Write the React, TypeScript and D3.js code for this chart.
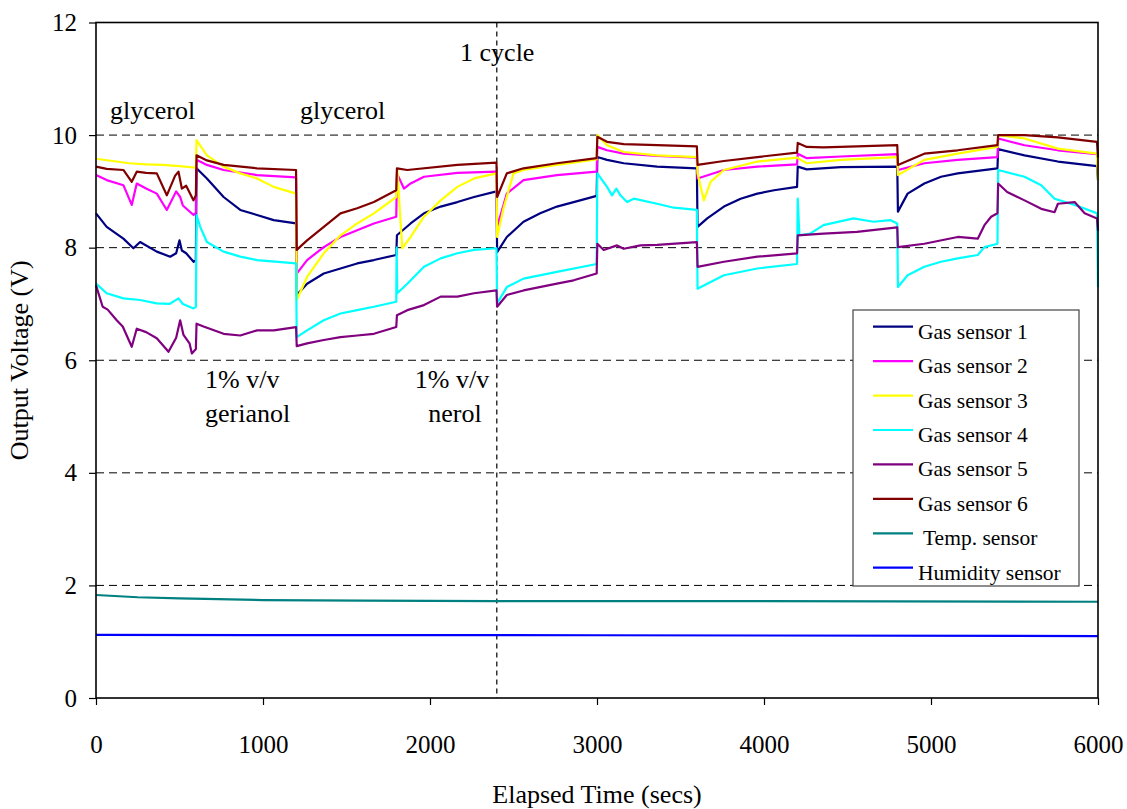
import React, { useEffect, useRef } from "react";
import * as d3 from "d3";

type Pt = [number, number];

// [elapsed time (s), output voltage (V)]
const gasSensor1: Pt[] = [
  [0, 8.61], [64, 8.37], [164, 8.16], [224, 7.99], [264, 8.1], [364, 7.93], [444, 7.84], [480, 7.9], [500, 8.13], [514, 7.95], [540, 7.9], [584, 7.75], [598, 7.78],
  [602, 9.41], [664, 9.23], [764, 8.9], [864, 8.67], [964, 8.58], [1064, 8.49], [1198, 8.43],
  [1202, 7.16], [1264, 7.36], [1364, 7.54], [1464, 7.63], [1564, 7.72], [1664, 7.78], [1798, 7.87],
  [1802, 8.22], [1884, 8.43], [1964, 8.61], [2064, 8.73], [2164, 8.81], [2264, 8.9], [2398, 9.0],
  [2402, 7.92], [2460, 8.19], [2560, 8.46], [2660, 8.61], [2760, 8.73], [2860, 8.81], [2998, 8.92],
  [3002, 9.61], [3060, 9.56], [3160, 9.5], [3360, 9.44], [3598, 9.41],
  [3602, 8.37], [3660, 8.52], [3760, 8.73], [3860, 8.87], [3960, 8.96], [4060, 9.02], [4198, 9.08],
  [4202, 9.44], [4256, 9.39], [4460, 9.43], [4798, 9.44],
  [4802, 8.64], [4860, 8.96], [4960, 9.14], [5060, 9.26], [5160, 9.32], [5398, 9.41],
  [5402, 9.75], [5560, 9.64], [5760, 9.53], [5994, 9.45], [6000, 9.2],
];

const gasSensor2: Pt[] = [
  [0, 9.29], [64, 9.2], [164, 9.11], [214, 8.76], [244, 9.14], [300, 9.05], [364, 8.96], [424, 8.67], [480, 9.0], [504, 8.9], [520, 8.75], [584, 8.58], [598, 8.62],
  [602, 9.56], [664, 9.47], [764, 9.38], [964, 9.29], [1198, 9.25],
  [1202, 7.54], [1264, 7.78], [1364, 8.01], [1464, 8.19], [1564, 8.31], [1664, 8.43], [1798, 8.55],
  [1802, 9.32], [1844, 9.05], [1884, 9.14], [1964, 9.26], [2164, 9.33], [2398, 9.35],
  [2402, 8.37], [2460, 8.96], [2560, 9.2], [2760, 9.29], [2998, 9.35],
  [3002, 9.79], [3060, 9.73], [3160, 9.67], [3360, 9.63], [3598, 9.6],
  [3602, 9.23], [3760, 9.38], [3960, 9.44], [4198, 9.48],
  [4202, 9.67], [4256, 9.59], [4460, 9.62], [4798, 9.66],
  [4802, 9.38], [4960, 9.5], [5160, 9.56], [5398, 9.61],
  [5402, 9.94], [5560, 9.82], [5760, 9.73], [5994, 9.66], [6000, 9.3],
];

const gasSensor3: Pt[] = [
  [0, 9.58], [100, 9.54], [200, 9.5], [300, 9.48], [400, 9.47], [500, 9.45], [598, 9.42],
  [602, 9.91], [664, 9.64], [764, 9.44], [864, 9.32], [964, 9.23], [1064, 9.08], [1198, 8.96],
  [1202, 7.07], [1264, 7.48], [1364, 7.9], [1464, 8.22], [1564, 8.43], [1664, 8.61], [1798, 8.9],
  [1804, 9.4], [1834, 7.99], [1884, 8.19], [1964, 8.55], [2064, 8.84], [2164, 9.08], [2264, 9.23], [2398, 9.32],
  [2402, 8.19], [2440, 8.7], [2500, 9.32], [2560, 9.38], [2760, 9.47], [2998, 9.57],
  [3002, 10.0], [3060, 9.82], [3160, 9.7], [3360, 9.64], [3598, 9.61],
  [3602, 9.32], [3640, 8.84], [3680, 9.17], [3760, 9.38], [3960, 9.53], [4198, 9.6],
  [4202, 9.59], [4256, 9.5], [4460, 9.56], [4798, 9.61],
  [4802, 9.29], [4960, 9.56], [5160, 9.67], [5398, 9.79],
  [5402, 10.0], [5560, 9.94], [5760, 9.76], [5994, 9.67], [6000, 9.2],
];

const gasSensor4: Pt[] = [
  [0, 7.36], [64, 7.19], [164, 7.1], [264, 7.07], [364, 7.01], [440, 7.0], [494, 7.1], [520, 7.0], [584, 6.92], [598, 6.95],
  [602, 8.58], [624, 8.37], [664, 8.1], [764, 7.93], [864, 7.84], [964, 7.78], [1198, 7.72],
  [1202, 6.41], [1264, 6.53], [1364, 6.71], [1464, 6.83], [1564, 6.89], [1664, 6.95], [1798, 7.04],
  [1800, 8.0], [1804, 7.19], [1864, 7.36], [1964, 7.66], [2064, 7.81], [2164, 7.9], [2264, 7.96], [2398, 7.99],
  [2402, 7.01], [2460, 7.3], [2560, 7.45], [2760, 7.57], [2998, 7.71],
  [3002, 9.32], [3060, 9.08], [3090, 8.93], [3116, 9.05], [3140, 8.93], [3180, 8.81], [3220, 8.87], [3360, 8.78], [3460, 8.71], [3598, 8.67],
  [3602, 7.27], [3660, 7.36], [3760, 7.51], [3960, 7.63], [4198, 7.71],
  [4202, 8.87], [4212, 8.22], [4276, 8.25], [4356, 8.4], [4536, 8.52], [4656, 8.46], [4756, 8.49], [4798, 8.43],
  [4802, 7.3], [4860, 7.51], [4960, 7.66], [5060, 7.75], [5160, 7.81], [5280, 7.87], [5320, 8.01], [5398, 8.07],
  [5402, 9.38], [5560, 9.26], [5660, 9.11], [5740, 8.87], [5860, 8.76], [5994, 8.61], [6000, 7.3],
];

const gasSensor5: Pt[] = [
  [0, 7.33], [40, 6.95], [70, 6.9], [124, 6.71], [160, 6.6], [214, 6.24], [244, 6.56], [300, 6.5], [364, 6.39], [420, 6.2], [434, 6.15], [480, 6.4], [504, 6.71], [524, 6.45], [560, 6.3], [574, 6.12], [598, 6.2],
  [602, 6.65], [644, 6.6], [764, 6.47], [864, 6.44], [964, 6.53], [1064, 6.53], [1198, 6.59],
  [1202, 6.25], [1264, 6.3], [1364, 6.36], [1464, 6.41], [1564, 6.44], [1664, 6.47], [1798, 6.59],
  [1802, 6.8], [1864, 6.89], [1964, 6.98], [2064, 7.13], [2164, 7.13], [2264, 7.19], [2398, 7.24],
  [2402, 6.95], [2460, 7.16], [2560, 7.24], [2760, 7.36], [2860, 7.42], [2998, 7.54],
  [3002, 8.07], [3040, 7.96], [3120, 8.04], [3160, 7.98], [3260, 8.04], [3360, 8.05], [3598, 8.1],
  [3602, 7.66], [3760, 7.75], [3960, 7.84], [4198, 7.9],
  [4202, 8.22], [4356, 8.25], [4556, 8.28], [4798, 8.36],
  [4802, 8.01], [4960, 8.07], [5160, 8.19], [5280, 8.16], [5320, 8.4], [5360, 8.55], [5398, 8.61],
  [5402, 9.14], [5456, 8.99], [5560, 8.84], [5660, 8.69], [5740, 8.63], [5760, 8.78], [5860, 8.81], [5920, 8.61], [5994, 8.52], [6000, 8.3],
];

const gasSensor6: Pt[] = [
  [0, 9.44], [64, 9.4], [164, 9.38], [214, 9.17], [244, 9.35], [300, 9.33], [364, 9.32], [424, 8.93], [474, 9.28], [494, 9.35], [514, 9.05], [540, 9.1], [584, 8.84], [598, 8.93],
  [602, 9.64], [664, 9.55], [764, 9.47], [964, 9.41], [1198, 9.38],
  [1202, 7.96], [1264, 8.13], [1364, 8.37], [1464, 8.61], [1564, 8.7], [1664, 8.81], [1798, 9.02],
  [1802, 9.41], [1864, 9.38], [2164, 9.47], [2398, 9.51],
  [2402, 8.9], [2460, 9.32], [2560, 9.41], [2760, 9.5], [2998, 9.59],
  [3002, 9.97], [3060, 9.88], [3160, 9.84], [3360, 9.82], [3598, 9.8],
  [3602, 9.47], [3760, 9.54], [3960, 9.61], [4198, 9.69],
  [4202, 9.86], [4256, 9.79], [4356, 9.78], [4556, 9.8], [4798, 9.82],
  [4802, 9.47], [4960, 9.67], [5160, 9.73], [5398, 9.82],
  [5402, 10.0], [5560, 10.0], [5760, 9.96], [5994, 9.88], [6000, 9.6],
];

const tempSensor: Pt[] = [
  [0, 1.83], [250, 1.79], [500, 1.77], [1000, 1.74], [1600, 1.73], [2400, 1.72], [4000, 1.72], [6000, 1.71],
];

const humiditySensor: Pt[] = [
  [0, 1.12], [3000, 1.115], [6000, 1.1],
];

const seriesNames = [
  "Gas sensor 1", "Gas sensor 2", "Gas sensor 3", "Gas sensor 4",
  "Gas sensor 5", "Gas sensor 6", " Temp. sensor", "Humidity sensor",
];
const seriesData = [
  gasSensor1, gasSensor2, gasSensor3, gasSensor4,
  gasSensor5, gasSensor6, tempSensor, humiditySensor,
];
const seriesColors = [
  "#000080", "#ff00ff", "#ffff00", "#00ffff",
  "#800080", "#800000", "#008080", "#0000ff",
];

const xTicks = [0, 1000, 2000, 3000, 4000, 5000, 6000];
const yTicks = [0, 2, 4, 6, 8, 10, 12];
const gridValues = [2, 4, 6, 8, 10];
const cycleTime = 2400;

// text notes placed in data coordinates
const notes = [
  { text: "glycerol", t: 84, v: 10.29, anchor: "start" },
  { text: "glycerol", t: 1222, v: 10.29, anchor: "start" },
  { text: "1 cycle", t: 2180, v: 11.31, anchor: "start" },
  { text: "1% v/v", t: 653, v: 5.51, anchor: "start" },
  { text: "gerianol", t: 653, v: 4.91, anchor: "start" },
  { text: "1% v/v", t: 2132, v: 5.51, anchor: "middle" },
  { text: "nerol", t: 2150, v: 4.91, anchor: "middle" },
];

const App = () => {
  const svgRef = useRef(null);

  useEffect(() => {
    const width = 1127;
    const height = 809;
    const marginTop = 22.5;
    const marginRight = 29;
    const marginBottom = 111;
    const marginLeft = 96;
    const font = "Liberation Serif";

    const x = d3.scaleLinear().domain([0, 6000]).range([marginLeft, width - marginRight]);
    const y = d3.scaleLinear().domain([0, 12]).range([height - marginBottom, marginTop]);

    const svg = d3
      .select(svgRef.current)
      .attr("width", width)
      .attr("height", height)
      .attr("viewBox", [0, 0, width, height])
      .attr("font-family", font);

    svg.selectAll("*").remove();
    svg.append("rect").attr("width", width).attr("height", height).attr("fill", "#fff");

    // dashed grid
    svg
      .append("g")
      .selectAll("line")
      .data(gridValues)
      .join("line")
      .attr("x1", marginLeft)
      .attr("x2", width - marginRight)
      .attr("y1", (d) => y(d))
      .attr("y2", (d) => y(d))
      .attr("stroke", "#000")
      .attr("stroke-width", 1)
      .attr("stroke-dasharray", "8,5");

    // cycle marker
    svg
      .append("line")
      .attr("x1", x(cycleTime))
      .attr("x2", x(cycleTime))
      .attr("y1", marginTop)
      .attr("y2", height - marginBottom)
      .attr("stroke", "#000")
      .attr("stroke-width", 1.2)
      .attr("stroke-dasharray", "5,4");

    // sensor traces
    const line = d3
      .line<Pt>()
      .x((d) => x(d[0]))
      .y((d) => y(d[1]));

    svg
      .append("g")
      .selectAll("path")
      .data(seriesData)
      .join("path")
      .attr("fill", "none")
      .attr("stroke", (d, i) => seriesColors[i])
      .attr("stroke-width", 2.2)
      .attr("stroke-linejoin", "round")
      .attr("d", (d) => line(d));

    // plot frame
    svg
      .append("rect")
      .attr("x", marginLeft)
      .attr("y", marginTop)
      .attr("width", width - marginLeft - marginRight)
      .attr("height", height - marginTop - marginBottom)
      .attr("fill", "none")
      .attr("stroke", "#000")
      .attr("stroke-width", 1.6);

    // axes
    svg
      .append("g")
      .attr("transform", `translate(${marginLeft},0)`)
      .call(d3.axisLeft(y).tickValues(yTicks).tickSize(7).tickPadding(12))
      .attr("font-family", font)
      .attr("font-size", 25)
      .call((g) => g.select(".domain").remove())
      .call((g) => g.selectAll(".tick line").attr("stroke-width", 1.2))
      .call((g) => g.selectAll(".tick text").attr("fill", "#000"));

    svg
      .append("g")
      .attr("transform", `translate(0,${height - marginBottom})`)
      .call(d3.axisBottom(x).tickValues(xTicks).tickFormat(d3.format("d")).tickSize(7).tickPadding(30))
      .attr("font-family", font)
      .attr("font-size", 25)
      .call((g) => g.select(".domain").remove())
      .call((g) => g.selectAll(".tick line").attr("stroke-width", 1.2))
      .call((g) => g.selectAll(".tick text").attr("fill", "#000"));

    // axis titles
    svg
      .append("text")
      .attr("x", (marginLeft + width - marginRight) / 2)
      .attr("y", 803)
      .attr("text-anchor", "middle")
      .attr("font-size", 26)
      .text("Elapsed Time (secs)");

    svg
      .append("text")
      .attr("transform", `translate(28,${(marginTop + height - marginBottom) / 2}) rotate(-90)`)
      .attr("text-anchor", "middle")
      .attr("font-size", 26)
      .text("Output Voltage (V)");

    // notes
    svg
      .append("g")
      .selectAll("text")
      .data(notes)
      .join("text")
      .attr("x", (d) => x(d.t))
      .attr("y", (d) => y(d.v))
      .attr("text-anchor", (d) => d.anchor)
      .attr("font-size", 26)
      .text((d) => d.text);

    // legend
    const legend = svg.append("g").attr("transform", "translate(853,310)");
    legend
      .append("rect")
      .attr("width", 226)
      .attr("height", 276)
      .attr("fill", "#fff")
      .attr("stroke", "#444")
      .attr("stroke-width", 1.2);

    const rows = legend
      .selectAll("g")
      .data(seriesNames)
      .join("g")
      .attr("transform", (d, i) => `translate(0,${16.7 + i * 34.43})`);

    rows
      .append("line")
      .attr("x1", 20)
      .attr("x2", 60)
      .attr("stroke", (d, i) => seriesColors[i])
      .attr("stroke-width", 2.2);

    rows
      .append("text")
      .attr("x", 65)
      .attr("y", 12)
      .attr("font-family", font)
      .attr("font-size", 21.5)
      .style("white-space", "pre")
      .text((d) => d);
  }, []);

  return (
    <div id="app">
      <svg ref={svgRef} style={{ position: "absolute", left: 0, top: 0 }}></svg>
    </div>
  );
};

export default App;
